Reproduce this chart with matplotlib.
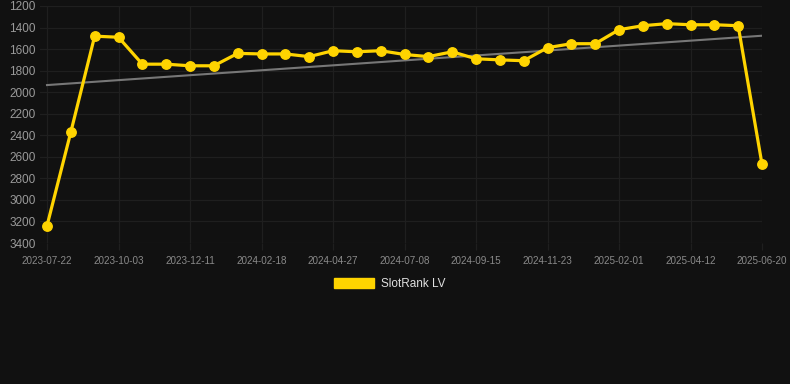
import matplotlib
matplotlib.use("Agg")
import matplotlib.pyplot as plt
from matplotlib.patches import Patch
import numpy as np

plt.rcParams['font.family'] = ['Liberation Sans', 'DejaVu Sans']

# rank values (lower is better), one point per sample
ranks = [3240, 2370, 1480, 1490, 1740, 1740, 1755, 1755, 1640, 1645,
         1645, 1670, 1615, 1625, 1615, 1650, 1670, 1625, 1690, 1700,
         1708, 1587, 1550, 1550, 1420, 1383, 1364, 1374, 1374, 1383,
         2669]
tick_labels = ['2023-07-22', '2023-10-03', '2023-12-11', '2024-02-18',
               '2024-04-27', '2024-07-08', '2024-09-15', '2024-11-23',
               '2025-02-01', '2025-04-12', '2025-06-20']
y_ticks = [1200, 1400, 1600, 1800, 2000, 2200, 2400, 2600, 2800, 3000, 3200, 3400]
trend_ends = [1934, 1476]
series_name = 'SlotRank LV'

bg = '#111111'
yellow = '#FFD400'
gridc = '#1f1f1f'

x = np.arange(len(ranks))

fig = plt.figure(figsize=(7.9, 3.84), dpi=100, facecolor=bg)
# plot area: first point at px 47, last at px 762, grid starts at px 40
step = (762 - 47) / (len(ranks) - 1)
ax = fig.add_axes([40/790, 1 - 243/384, (762 - 40)/790, (243 - 6)/384])
ax.set_facecolor(bg)

ax.plot([x[0], x[-1]], trend_ends, color='#777777', lw=1.5, zorder=2)
ax.plot(x, ranks, color=yellow, lw=2.3, marker='o', markersize=6.8,
        clip_on=False, zorder=3)

ax.set_xlim(-7 / step, len(ranks) - 1)
ax.set_ylim(3400, 1200)
ax.set_yticks(y_ticks)
ax.set_yticklabels([str(v) for v in y_ticks])
ax.set_xticks(x[::3])
ax.set_xticklabels(tick_labels)

ax.grid(True, color=gridc, lw=0.9)
ax.set_axisbelow(True)
for s in ax.spines.values():
    s.set_visible(False)
ax.tick_params(axis='y', length=0, pad=3, labelsize=8.5, labelcolor='#9a9a9a')
ax.tick_params(axis='x', length=5, width=0.9, color=gridc, pad=4,
               labelsize=7.1, labelcolor='#8a8a8a')

handle = Patch(facecolor=yellow, edgecolor=yellow)
fig.legend([handle], [series_name], loc='center', bbox_to_anchor=(390/790, 1 - 284/384),
           frameon=False, fontsize=8.5, labelcolor='#e0e0e0',
           handlelength=3.4, handleheight=1.0, handletextpad=0.6)

fig.savefig('out.png', dpi=100, facecolor=bg)
